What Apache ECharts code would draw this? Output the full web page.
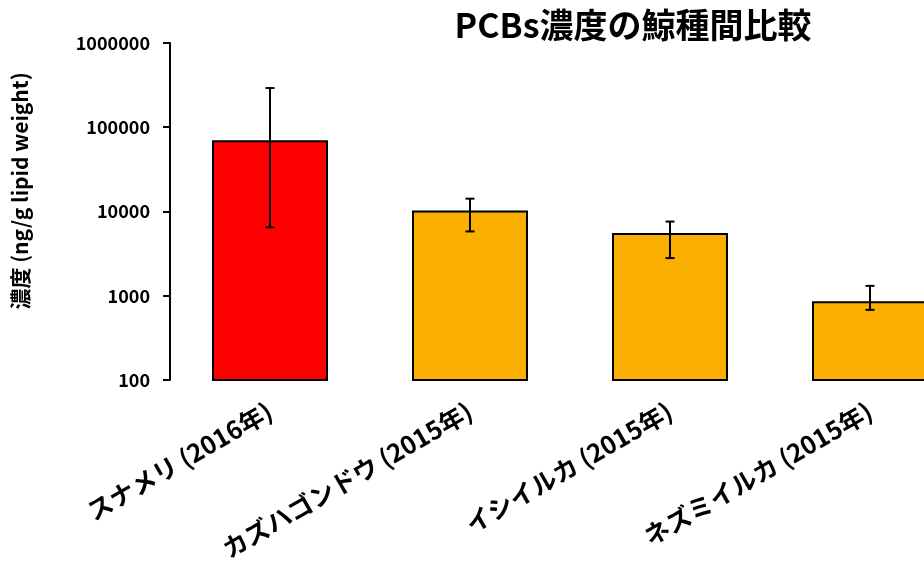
<!DOCTYPE html>
<html>
<head>
<meta charset="utf-8">
<script src="https://cdn.jsdelivr.net/npm/echarts@6/dist/echarts.min.js"></script>
<style>
  html, body { margin: 0; padding: 0; background: #fff; }
  #chart { width: 924px; height: 561px; }
</style>
</head>
<body>
<div id="chart"></div>
<script>
// PCBs concentration by whale species (ng/g lipid weight)
const categories = ['スナメリ (2016年)', 'カズハゴンドウ (2015年)', 'イシイルカ (2015年)', 'ネズミイルカ (2015年)'];
const values = [68000, 10000, 5400, 840];
const errLow = [6500, 5800, 2800, 680];
const errHigh = [292000, 14200, 7600, 1310];
const barColors = ['#FE0000', '#FBAF00', '#FBAF00', '#FBAF00'];
const yTicks = [100, 1000, 10000, 100000, 1000000];

const FONT = '"Noto Sans CJK JP", "Noto Sans", sans-serif';

const chart = echarts.init(document.getElementById('chart'), null, { renderer: 'canvas' });

const barData = values.map((v, i) => [i, v]);
const errData = values.map((v, i) => [i, errLow[i], errHigh[i]]);

chart.setOption({
  animation: false,
  backgroundColor: '#fff',
  title: {
    text: 'PCBs濃度の鯨種間比較',
    left: 628,
    top: 3,
    textAlign: 'center',
    textStyle: { fontFamily: FONT, fontWeight: 'bold', fontSize: 34, color: '#000' }
  },
  graphic: [{
    type: 'text',
    x: 20,
    y: 191,
    rotation: Math.PI / 2,
    style: {
      text: '濃度 (ng/g lipid weight)',
      fontFamily: FONT,
      fontWeight: 'bold',
      fontSize: 21,
      fill: '#000',
      align: 'center',
      verticalAlign: 'middle'
    }
  }],
  grid: {
    left: 170, top: 43, width: 800, height: 337,
    containLabel: false,
    outerBoundsMode: 'none'
  },
  xAxis: {
    type: 'category',
    data: categories,
    axisLine: { show: false },
    axisTick: { show: false },
    axisLabel: {
      rotate: 30,
      margin: 29,
      interval: 0,
      hideOverlap: false,
      fontFamily: FONT,
      fontWeight: 'bold',
      fontSize: 25,
      color: '#000'
    }
  },
  yAxis: {
    type: 'log',
    logBase: 10,
    min: yTicks[0],
    max: yTicks[yTicks.length - 1],
    axisLine: { show: true, lineStyle: { color: '#000', width: 2 } },
    axisTick: { show: true, length: 7, lineStyle: { color: '#000', width: 2 } },
    splitLine: { show: false },
    axisLabel: {
      margin: 20,
      fontFamily: FONT,
      fontWeight: 'bold',
      fontSize: 18,
      color: '#000',
      formatter: v => String(Math.round(v))
    }
  },
  series: [
    {
      type: 'custom',
      name: 'bars',
      data: barData,
      clip: false,
      renderItem: function (params, api) {
        const i = api.value(0);
        const v = api.value(1);
        const top = api.coord([i, v]);
        const base = api.coord([i, yTicks[0]]);
        const w = api.size([1, 0])[0] * 0.57;
        return {
          type: 'rect',
          shape: { x: top[0] - w / 2, y: top[1], width: w, height: base[1] - top[1] },
          style: { fill: barColors[i], stroke: '#000', lineWidth: 2 }
        };
      },
      z: 2
    },
    {
      type: 'custom',
      name: 'error',
      data: errData,
      clip: false,
      renderItem: function (params, api) {
        const i = api.value(0);
        const lo = api.coord([i, api.value(1)]);
        const hi = api.coord([i, api.value(2)]);
        const cap = 4.5;
        const st = { stroke: '#000', lineWidth: 2 };
        return {
          type: 'group',
          children: [
            { type: 'line', shape: { x1: lo[0], y1: lo[1], x2: hi[0], y2: hi[1] }, style: st },
            { type: 'line', shape: { x1: hi[0] - cap, y1: hi[1], x2: hi[0] + cap, y2: hi[1] }, style: st },
            { type: 'line', shape: { x1: lo[0] - cap, y1: lo[1], x2: lo[0] + cap, y2: lo[1] }, style: st }
          ]
        };
      },
      z: 3
    }
  ]
});
</script>
</body>
</html>
